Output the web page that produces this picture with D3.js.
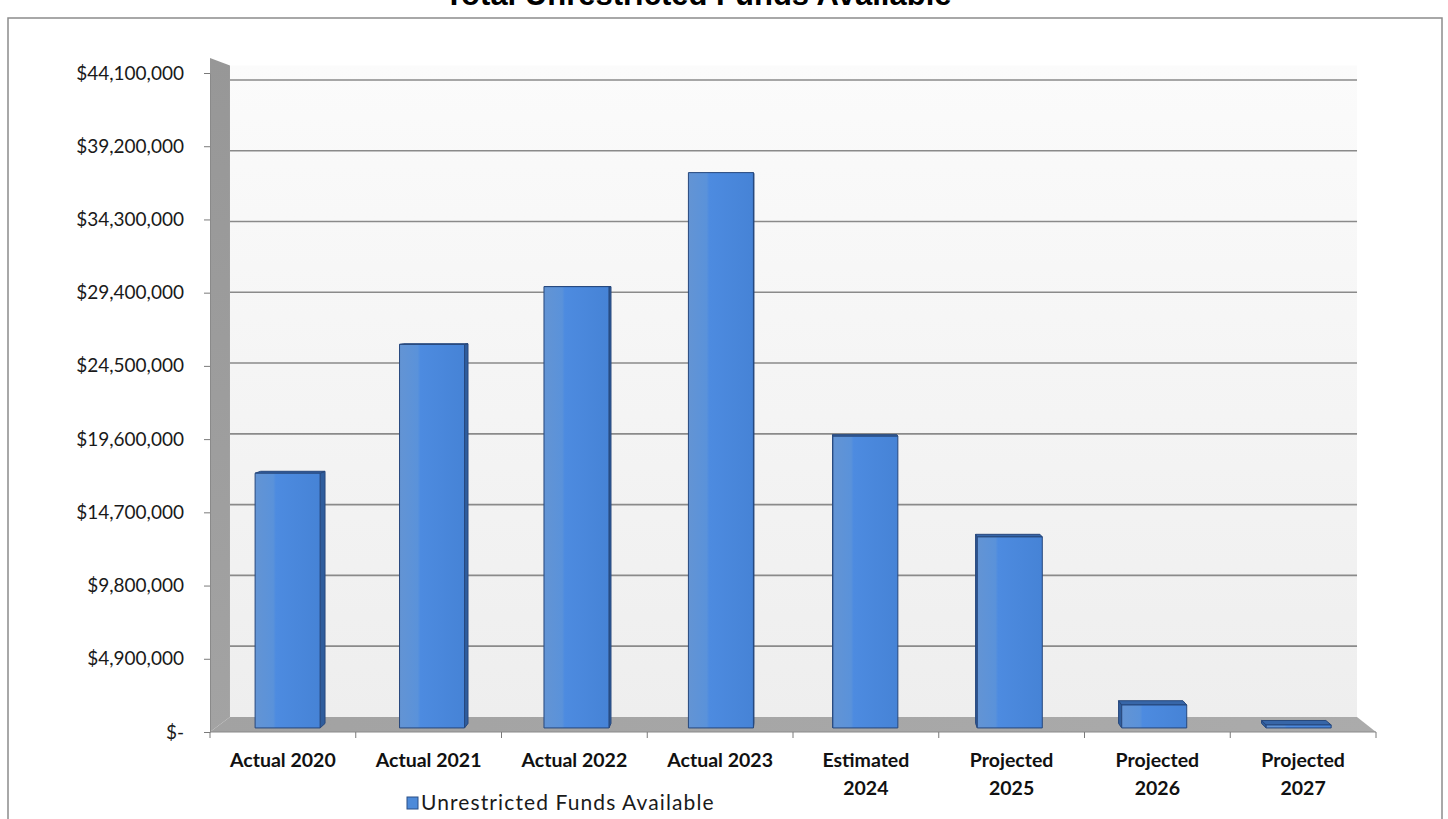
<!DOCTYPE html>
<html>
<head>
<meta charset="utf-8">
<script src="https://cdn.jsdelivr.net/npm/d3@7"></script>
<style>
  html, body { margin: 0; padding: 0; background: #ffffff; }
  svg { display: block; }
</style>
</head>
<body>
<svg id="chart" width="1448" height="819"></svg>
<script>
// ---- data ----
const chartTitle = "Total Unrestricted Funds Available";
const seriesName = "Unrestricted Funds Available";
const categories = ["Actual 2020", "Actual 2021", "Actual 2022", "Actual 2023",
                    "Estimated 2024", "Projected 2025", "Projected 2026", "Projected 2027"];
const fundsAvailable = [17200000, 25900000, 29800000, 37500000,
                        19700000, 12900000, 1550000, 200000];
const yTickValues = [0, 4900000, 9800000, 14700000, 19600000, 24500000,
                     29400000, 34300000, 39200000, 44100000];

// ---- layout ----
const svg = d3.select("#chart");
const defs = svg.append("defs");

// front plane of the 3-D box (axis plane)
const x = d3.scaleBand().domain(categories).range([210, 1376]).paddingInner(0).paddingOuter(0);
const y = d3.scaleLinear().domain([0, 44100000]).range([732, 73]);
const wallTopValue = 45100000;

// simple perspective: points recede toward a vanishing point with a depth scale
const VP = { x: 808, y: 281 };
const depthWall = 0.9666, depthBarFront = 0.991, depthBarBack = 0.981;
const proj = (xf, yf, s) => [VP.x + s * (xf - VP.x), VP.y + s * (yf - VP.y)];
const poly = pts => pts.map(p => p.join(",")).join(" ");

// chart frame
svg.append("rect").attr("x", 8).attr("y", 18).attr("width", 1434).attr("height", 830)
  .attr("fill", "#ffffff").attr("stroke", "#8c8c8c").attr("stroke-width", 1.5);

// title (sits above the frame, partly past the top edge)
svg.append("text").attr("x", 698).attr("y", 5).attr("text-anchor", "middle")
  .attr("font-family", "'Liberation Sans', Arial, sans-serif").attr("font-weight", "bold")
  .attr("font-size", 31).attr("fill", "#000").text(chartTitle);

// gradients
const gWall = defs.append("linearGradient").attr("id", "wallGrad").attr("x1", 0).attr("y1", 0).attr("x2", 0).attr("y2", 1);
gWall.append("stop").attr("offset", "0%").attr("stop-color", "#fbfbfb");
gWall.append("stop").attr("offset", "100%").attr("stop-color", "#eeeeee");

const gSide = defs.append("linearGradient").attr("id", "sideGrad").attr("x1", 0).attr("y1", 0).attr("x2", 0).attr("y2", 1);
gSide.append("stop").attr("offset", "0%").attr("stop-color", "#979797");
gSide.append("stop").attr("offset", "100%").attr("stop-color", "#a3a3a3");

const gFloor = defs.append("linearGradient").attr("id", "floorGrad").attr("x1", 0).attr("y1", 0).attr("x2", 1).attr("y2", 0);
gFloor.append("stop").attr("offset", "0%").attr("stop-color", "#a2a2a2");
gFloor.append("stop").attr("offset", "100%").attr("stop-color", "#ababab");

const gBar = defs.append("linearGradient").attr("id", "barGrad").attr("x1", 0).attr("y1", 0).attr("x2", 1).attr("y2", 0);
gBar.append("stop").attr("offset", "0%").attr("stop-color", "#6394d4");
gBar.append("stop").attr("offset", "28%").attr("stop-color", "#5a92da");
gBar.append("stop").attr("offset", "32%").attr("stop-color", "#4d8be0");
gBar.append("stop").attr("offset", "100%").attr("stop-color", "#4683d6");

// back wall
const x0 = x.range()[0], x1 = x.range()[1];
const yBase = y(0), yWallTop = y(wallTopValue);
svg.append("polygon")
  .attr("points", poly([proj(x0, yWallTop, depthWall), proj(x1, yWallTop, depthWall),
                        proj(x1, yBase, depthWall), proj(x0, yBase, depthWall)]))
  .attr("fill", "url(#wallGrad)");

// gridlines on the back wall
svg.append("g").selectAll("line").data(yTickValues.filter(v => v > 0)).join("line")
  .attr("x1", d => proj(x0, y(d), depthWall)[0]).attr("y1", d => proj(x0, y(d), depthWall)[1])
  .attr("x2", d => proj(x1, y(d), depthWall)[0]).attr("y2", d => proj(x1, y(d), depthWall)[1])
  .attr("stroke", "#8a8a8a").attr("stroke-width", 1.6);

// floor
svg.append("polygon")
  .attr("points", poly([proj(x0, yBase, 1), proj(x1, yBase, 1),
                        proj(x1, yBase, depthWall), proj(x0, yBase, depthWall)]))
  .attr("fill", "url(#floorGrad)");

// side wall
svg.append("polygon")
  .attr("points", poly([proj(x0, yBase, 1), proj(x0, yWallTop, 1),
                        proj(x0, yWallTop, depthWall), proj(x0, yBase, depthWall)]))
  .attr("fill", "url(#sideGrad)");

// bars as perspective boxes
const barW = x.bandwidth() * 0.45;
const bars = svg.append("g");
categories.forEach((c, i) => {
  const v = fundsAvailable[i];
  const xa = x(c) + (x.bandwidth() - barW) / 2, xb = xa + barW;
  const yt = y(v), yb = y(0);
  const fTL = proj(xa, yt, depthBarFront), fTR = proj(xb, yt, depthBarFront);
  const fBL = proj(xa, yb, depthBarFront), fBR = proj(xb, yb, depthBarFront);
  const bTL = proj(xa, yt, depthBarBack), bTR = proj(xb, yt, depthBarBack);
  const bBL = proj(xa, yb, depthBarBack), bBR = proj(xb, yb, depthBarBack);
  const g = bars.append("g").attr("stroke", "#26477c").attr("stroke-width", 1).attr("stroke-linejoin", "round");
  if (fTR[0] < VP.x) g.append("polygon").attr("points", poly([fTR, bTR, bBR, fBR])).attr("fill", "#2f5d9d");
  if (fTL[0] > VP.x) g.append("polygon").attr("points", poly([fTL, bTL, bBL, fBL])).attr("fill", "#2f5d9d");
  if (fTL[1] > VP.y) g.append("polygon").attr("points", poly([fTL, fTR, bTR, bTL])).attr("fill", "#3766a8");
  g.append("polygon").attr("points", poly([fTL, fTR, fBR, fBL])).attr("fill", "url(#barGrad)");
});

// value axis
const fmt = d => d === 0 ? "$-" : "$" + d3.format(",")(d);
const yAxis = svg.append("g").attr("transform", `translate(${x0},0)`)
  .call(d3.axisLeft(y).tickValues(yTickValues).tickFormat(fmt).tickSize(6).tickSizeOuter(0).tickPadding(20));
yAxis.select(".domain").attr("stroke", "#8a8a8a");
yAxis.selectAll(".tick line").attr("stroke", "#7a7a7a");
yAxis.selectAll(".tick text").attr("font-family", "Lato, 'Noto Sans', sans-serif")
  .attr("font-size", 19).attr("fill", "#1a1a1a");

// category axis: line, boundary ticks, wrapped labels
const xAxis = svg.append("g");
xAxis.append("line").attr("x1", x0).attr("x2", x1).attr("y1", yBase).attr("y2", yBase)
  .attr("stroke", "#8a8a8a").attr("stroke-width", 1);
xAxis.selectAll("line.tk").data(categories.map(c => x(c)).concat([x1])).join("line")
  .attr("class", "tk").attr("x1", d => d).attr("x2", d => d)
  .attr("y1", yBase).attr("y2", yBase + 6).attr("stroke", "#7a7a7a");

const labels = xAxis.selectAll("text.lbl").data(categories).join("text")
  .attr("class", "lbl")
  .attr("x", d => x(d) + x.bandwidth() / 2).attr("y", 767)
  .attr("text-anchor", "middle").attr("font-family", "Lato, 'Noto Sans', sans-serif")
  .attr("font-weight", "bold").attr("font-size", 19.5).attr("fill", "#111")
  .text(d => d);
labels.each(function (d) {
  const t = d3.select(this);
  if (this.getComputedTextLength() > x.bandwidth() * 0.85) {
    const words = d.split(" ");
    t.text(null);
    t.append("tspan").attr("x", x(d) + x.bandwidth() / 2).attr("dy", 0).text(words.slice(0, -1).join(" "));
    t.append("tspan").attr("x", x(d) + x.bandwidth() / 2).attr("dy", 28).text(words[words.length - 1]);
  }
});

// legend
const legend = svg.append("g").attr("transform", "translate(407,797)");
legend.append("rect").attr("x", 0).attr("y", 0).attr("width", 11).attr("height", 12)
  .attr("fill", "#4d8ad9").attr("stroke", "#2a4f86").attr("stroke-width", 1);
legend.append("text").attr("x", 14).attr("y", 13)
  .attr("font-family", "Lato, 'Noto Sans', sans-serif").attr("font-size", 21)
  .attr("letter-spacing", 1.1).attr("fill", "#1a1a1a")
  .text(seriesName);
</script>
</body>
</html>
